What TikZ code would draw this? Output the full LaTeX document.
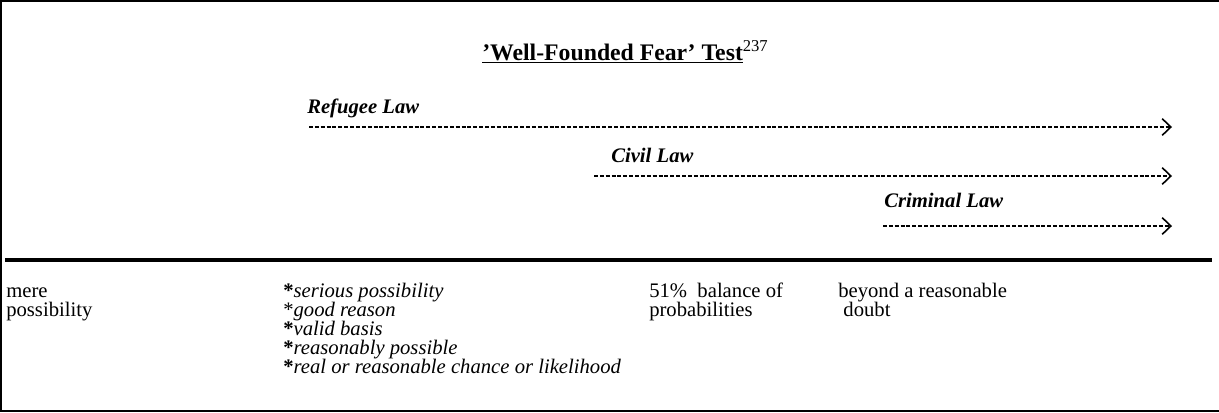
\documentclass[tikz,border=0pt]{standalone}
\usepackage{fontspec}
\setmainfont{Liberation Serif}
\usetikzlibrary{arrows.meta}

\begin{document}
\begin{tikzpicture}[x=0.75pt,y=-0.75pt,
		txt/.style={inner sep=0pt,anchor=base west,font=\fontsize{15.5}{14.25}\selectfont},
		law/.style={txt,font=\fontsize{15.5}{14.25}\selectfont\bfseries\itshape},
		col/.style={txt,align=left},
		scaleline/.style={line width=0.95pt,dash pattern=on 3pt off 1.4pt,-{Straight Barb[length=6.5pt,width=12.5pt,line width=1.2pt]}}]

	\useasboundingbox (0,0) rectangle (1219,412);
	\draw[line width=1.6pt] (1219,1) -- (1,1) -- (1,411) -- (1219,411);
	\draw[line width=2.6pt] (5,260) -- (1212,260);

	\node[txt,font=\fontsize{17.8}{20}\selectfont] (title) at (482,60) {\textbf{\underline{'Well-Founded Fear' Test}}\textsuperscript{237}};

	\node[law] (refugee) at (307,113) {Refugee Law};
	\node[law] (civil) at (611,162) {Civil Law};
	\node[law] (criminal) at (884,207) {Criminal Law};

	\coordinate (r0) at (309,127);
	\coordinate (r1) at (1172,127);
	\coordinate (c0) at (594,176);
	\coordinate (c1) at (1172,176);
	\coordinate (k0) at (883,226);
	\coordinate (k1) at (1172,226);

	\draw[scaleline] (r0) -- (r1);
	\draw[scaleline] (c0) -- (c1);
	\draw[scaleline] (k0) -- (k1);

	\node[col] (mere) at (6,316) {mere\\possibility};
	\node[col] (serious) at (283,373) {\textbf{*}\textit{serious possibility}\\
		*\textit{good reason}\\
		\textbf{*}\textit{valid basis}\\
		\textbf{*}\textit{reasonably possible}\\
		\textbf{*}\textit{real or reasonable chance or likelihood}};
	\node[col] (balance) at (649,316) {51\%\ \ balance of\\probabilities};
	\node[col] (beyond) at (838,316) {beyond a reasonable\\\ doubt};

\end{tikzpicture}
\end{document}
